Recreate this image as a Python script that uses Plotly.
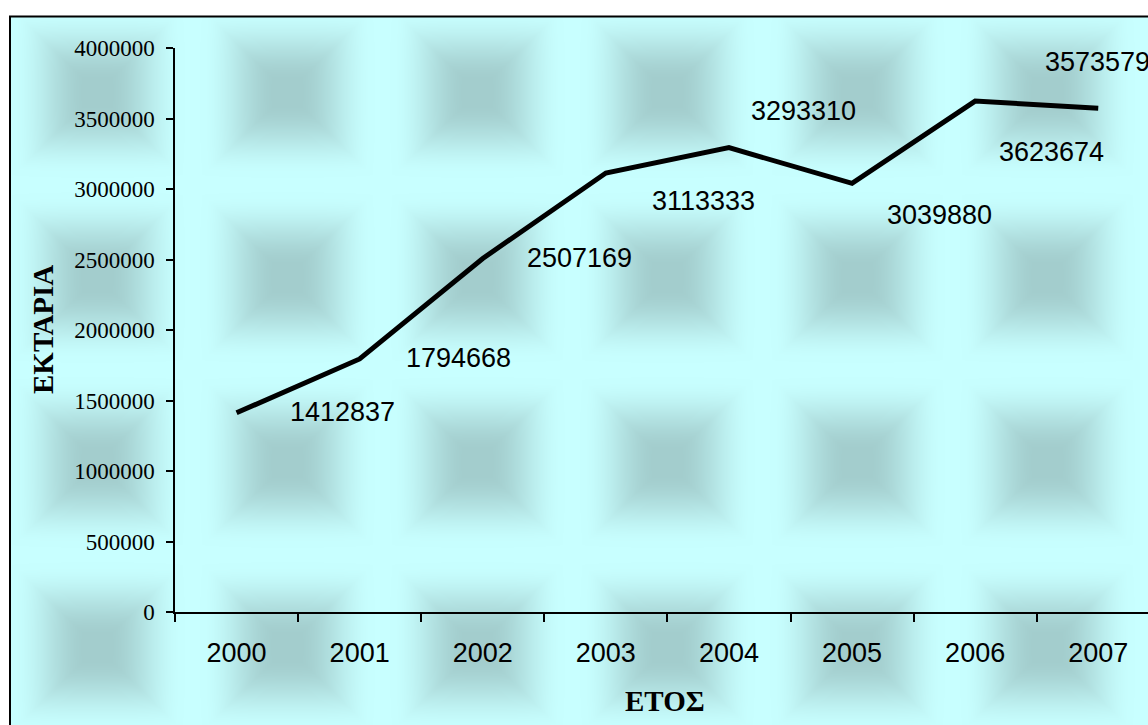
import base64, struct, zlib
import numpy as np
import plotly.graph_objects as go

years = ["2000", "2001", "2002", "2003", "2004", "2005", "2006", "2007"]
hectares = [1412837, 1794668, 2507169, 3113333, 3293310, 3039880, 3623674, 3573579]
y_ticks = [0, 500000, 1000000, 1500000, 2000000, 2500000, 3000000, 3500000, 4000000]

# label offsets in px (dx, dy up) - labels sit off the points like in the original
label_shift = [(106, 1), (99, 1), (97, 0), (98, -28), (75, 37), (87, -32), (76, -51), (-1, 46)]

W, H = 1148, 725
L, T, B, R = 175, 48, 725 - 612, 0
pw, ph = W - L - R, H - T - B


def px(x):  # page pixel -> paper
    return (x - L) / pw


def py(y):
    return (H - B - y) / ph


def png_uri(rgb):
    h, w, _ = rgb.shape
    a = rgb.astype(np.int16)
    sub = (a - np.concatenate([np.zeros((h, 1, 3), np.int16), a[:, :-1]], axis=1)) % 256
    raw = np.concatenate([np.ones((h, 1), np.uint8), sub.astype(np.uint8).reshape(h, -1)], axis=1)
    def chunk(tag, data):
        c = struct.pack(">I", len(data)) + tag + data
        return c + struct.pack(">I", zlib.crc32(tag + data) & 0xffffffff)
    png = b"\x89PNG\r\n\x1a\n" + chunk(b"IHDR", struct.pack(">IIBBBBB", w, h, 8, 2, 0, 0, 0))
    png += chunk(b"IDAT", zlib.compress(raw.tobytes(), 9)) + chunk(b"IEND", b"")
    return "data:image/png;base64," + base64.b64encode(png).decode()


# pillow texture background (chart area fill)
bx0, by0 = 10, 17
bw, bh = W - bx0, H - by0
xx, yy = np.meshgrid(np.arange(bw) + bx0, np.arange(bh) + by0)
u = np.abs(((xx - 97 + 95) % 190) / 190 - 0.5) * 2
v = np.abs(((yy - 92 + 92.5) % 185) / 185 - 0.5) * 2
t = 0.85 * np.maximum(u, v) + 0.15 * (u ** 4 + v ** 4) ** 0.25
s = np.clip((t - 0.1) / 0.82, 0, 1)
d = 1 - s * s * (3 - 2 * s)
light = np.array([200, 255, 255])
dark = np.array([163, 205, 205])
img = light + d[..., None] * (dark - light)
bg = png_uri(np.clip(img, 0, 255).astype(np.uint8))

fig = go.Figure()
fig.add_trace(go.Scatter(x=years, y=hectares, mode="lines",
                         line=dict(color="black", width=5), showlegend=False,
                         hoverinfo="x+y"))

for i, (val, (dx, dy)) in enumerate(zip(hectares, label_shift)):
    fig.add_annotation(x=i, y=val, text=str(val), showarrow=False,
                       xanchor="center", yanchor="middle",
                       xshift=dx, yshift=dy,
                       font=dict(family="Liberation Sans, Arial", size=27, color="black"))

fig.add_annotation(x=px(43), y=py(330), xref="paper", yref="paper", text="<b>ΕΚΤΑΡΙΑ</b>",
                   textangle=-90, showarrow=False, xanchor="center", yanchor="middle",
                   font=dict(family="Liberation Serif, Times New Roman", size=29, color="black"))
fig.add_annotation(x=px(665), y=py(701), xref="paper", yref="paper", text="<b>ΕΤΟΣ</b>",
                   showarrow=False, xanchor="center", yanchor="middle",
                   font=dict(family="Liberation Serif, Times New Roman", size=29, color="black"))

fig.add_layout_image(source=bg, xref="paper", yref="paper", x=px(bx0), y=py(by0),
                     sizex=bw / pw, sizey=bh / ph, xanchor="left", yanchor="top",
                     sizing="stretch", layer="below")

fig.add_shape(type="rect", xref="paper", yref="paper",
              x0=px(10), x1=px(W + 30), y0=py(16.5), y1=py(H + 30),
              line=dict(color="black", width=2))

fig.update_xaxes(type="category", range=[-0.5, -0.5 + pw / 123.1], tickson="boundaries",
                 ticks="outside", ticklen=8, tickwidth=1.5, tickcolor="black",
                 showline=True, linecolor="black", linewidth=1.5, showgrid=False,
                 zeroline=False, ticklabelstandoff=16,
                 tickfont=dict(family="Liberation Sans, Arial", size=27, color="black"))
fig.update_yaxes(range=[0, 4000000], tickvals=y_ticks, ticktext=[str(v) for v in y_ticks],
                 ticks="outside", ticklen=7, tickwidth=1.5, tickcolor="black",
                 showline=True, linecolor="black", linewidth=1.5, showgrid=False,
                 zeroline=False, ticklabelstandoff=7,
                 tickfont=dict(family="Liberation Serif, Times New Roman", size=23, color="black"))

fig.update_layout(width=W, height=H, margin=dict(l=L, r=R, t=T, b=B, autoexpand=False),
                  paper_bgcolor="white", plot_bgcolor="rgba(0,0,0,0)")

fig.write_html("out.html", config={"displayModeBar": False},
               post_script="document.body.style.margin='0';document.body.style.overflow='hidden';")
